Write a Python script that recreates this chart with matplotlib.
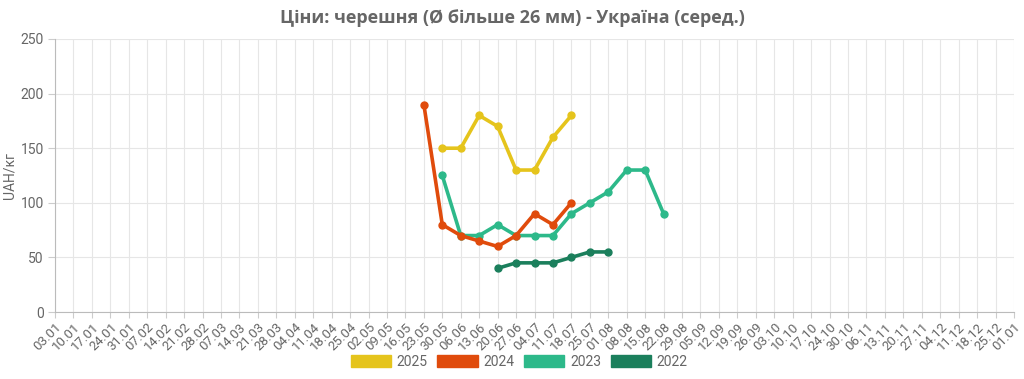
import matplotlib
matplotlib.use("Agg")
import matplotlib.pyplot as plt
import numpy as np
from matplotlib.patches import Patch

plt.rcParams['font.family'] = ['Roboto', 'DejaVu Sans']

# weekly tick labels
weeks = ["03.01", "10.01", "17.01", "24.01", "31.01", "07.02", "14.02", "21.02", "28.02",
         "07.03", "14.03", "21.03", "28.03", "04.04", "11.04", "18.04", "25.04", "02.05",
         "09.05", "16.05", "23.05", "30.05", "06.06", "13.06", "20.06", "27.06", "04.07",
         "11.07", "18.07", "25.07", "01.08", "08.08", "15.08", "22.08", "29.08", "05.09",
         "12.09", "19.09", "26.09", "03.10", "10.10", "17.10", "24.10", "30.10", "06.11",
         "13.11", "20.11", "27.11", "04.12", "11.12", "18.12", "25.12", "01.01"]

# series: week labels + prices
weeks_2025 = ["30.05", "06.06", "13.06", "20.06", "27.06", "04.07", "11.07", "18.07"]
price_2025 = [150, 150, 180, 170, 130, 130, 160, 180]

weeks_2024 = ["23.05", "30.05", "06.06", "13.06", "20.06", "27.06", "04.07", "11.07", "18.07"]
price_2024 = [190, 80, 70, 65, 60, 70, 90, 80, 100]

weeks_2023 = ["30.05", "06.06", "13.06", "20.06", "27.06", "04.07", "11.07", "18.07",
              "25.07", "01.08", "08.08", "15.08", "22.08"]
price_2023 = [125, 70, 70, 80, 70, 70, 70, 90, 100, 110, 130, 130, 90]

weeks_2022 = ["20.06", "27.06", "04.07", "11.07", "18.07", "25.07", "01.08"]
price_2022 = [40, 45, 45, 45, 50, 55, 55]

series = [
    ("2025", weeks_2025, price_2025, "#E5C41C"),
    ("2024", weeks_2024, price_2024, "#E04B0C"),
    ("2023", weeks_2023, price_2023, "#2DB98A"),
    ("2022", weeks_2022, price_2022, "#1B7F5C"),
]

fig = plt.figure(figsize=(10.24, 3.79), dpi=100)
ax = fig.add_axes([55 / 1024, 1 - 312 / 379, (1014 - 55) / 1024, (312 - 39) / 379])

pos = {w: i for i, w in enumerate(weeks)}
# older years first so 2025 stays on top
for name, wk, vals, col in reversed(series):
    xs = [pos[w] for w in wk]
    ax.plot(xs, vals, color=col, lw=2.6, marker="o", ms=5, zorder=3)

ax.set_xlim(0, len(weeks) - 1)
ax.set_ylim(0, 250)
ax.set_yticks(np.arange(0, 251, 50))
ax.set_xticks(range(len(weeks)))
ax.set_xticklabels(weeks, rotation=45, ha="right", rotation_mode="anchor")
ax.tick_params(axis="x", labelsize=9.5, colors="#666666", length=4, color="#cccccc", pad=2)
ax.tick_params(axis="y", labelsize=10, colors="#666666", length=5, color="#cccccc", pad=3)
ax.grid(True, color="#e6e6e6", lw=0.8)
ax.set_axisbelow(True)
for s in ["top", "right"]:
    ax.spines[s].set_visible(False)
for s in ["left", "bottom"]:
    ax.spines[s].set_color("#bbbbbb")

ax.set_ylabel("UAH/кг", color="#666666", fontsize=10, va="center")
ax.yaxis.set_label_coords(-0.047, 0.5)

fig.text(0.5, 1 - 18 / 379, "Ціни: черешня (Ø більше 26 мм) - Україна (серед.)",
         ha="center", va="center", fontsize=13, fontweight="bold", color="#666666",
         family=["Open Sans", "DejaVu Sans"])

handles = [Patch(facecolor=c, edgecolor=c, label=n) for n, _, _, c in series]
fig.legend(handles=handles, loc="center", bbox_to_anchor=(0.507, 1 - 362 / 379), ncol=4,
           frameon=False, handlelength=2.9, handleheight=1.0, columnspacing=0.7,
           handletextpad=0.4, fontsize=10, labelcolor="#666666")

fig.savefig("out.png", dpi=100)
